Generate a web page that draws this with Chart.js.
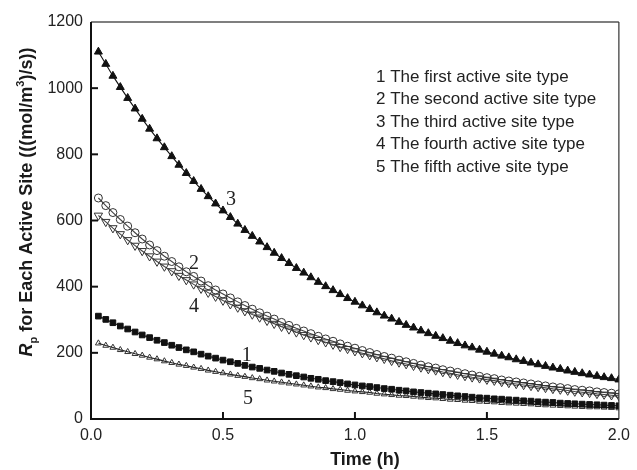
<!DOCTYPE html>
<html><head><meta charset="utf-8">
<script src="https://cdn.jsdelivr.net/npm/chart.js@4/dist/chart.umd.min.js"></script>
<style>html,body{margin:0;padding:0;background:#fff;} canvas{display:block;}</style>
</head><body>
<canvas id="c" width="637" height="470"></canvas>
<script>
// ---- data ----
const timeH = [0.028,0.056,0.083,0.111,0.139,0.167,0.194,0.222,0.250,0.278,0.306,0.333,0.361,0.389,0.417,0.444,0.472,0.500,0.528,0.556,0.583,0.611,0.639,0.667,0.694,0.722,0.750,0.778,0.806,0.833,0.861,0.889,0.917,0.944,0.972,1.000,1.028,1.056,1.083,1.111,1.139,1.167,1.194,1.222,1.250,1.278,1.306,1.333,1.361,1.389,1.417,1.444,1.472,1.500,1.528,1.556,1.583,1.611,1.639,1.667,1.694,1.722,1.750,1.778,1.806,1.833,1.861,1.889,1.917,1.944,1.972,2.000];
const site1 = [311,301,291,281,272,263,254,246,238,231,223,216,209,203,196,190,184,178,173,168,162,157,153,148,144,139,135,131,127,123,120,116,113,110,106,103,100,98,95,92,90,87,85,82,80,78,76,74,72,70,68,66,64,63,61,60,58,57,55,54,52,51,50,48,47,46,45,44,43,42,41,40];
const site2 = [668,645,624,603,583,563,544,526,509,492,476,460,445,431,417,403,390,378,366,354,343,332,321,311,302,292,283,274,266,258,250,242,235,227,220,214,207,201,195,189,184,178,173,168,163,158,154,149,145,141,137,133,129,125,122,118,115,112,109,106,103,100,97,95,92,89,87,85,82,80,78,76];
const site3 = [1110,1073,1037,1003,970,938,907,877,848,821,794,768,743,719,695,673,651,630,610,590,571,553,536,519,502,486,471,456,442,428,414,401,389,377,365,354,343,332,322,312,303,293,284,276,267,259,251,244,236,229,222,216,209,203,197,191,186,180,175,170,165,160,155,151,146,142,138,134,130,126,123,119];
const site4 = [615,596,577,559,541,524,508,492,476,461,447,433,420,407,394,382,370,358,347,337,326,316,307,297,288,279,271,262,254,247,239,232,225,218,212,205,199,193,187,182,176,171,166,161,156,151,147,142,138,134,130,126,123,119,116,112,109,106,103,100,97,94,91,89,86,83,81,79,76,74,72,70];
const site5 = [229,222,216,209,203,197,192,186,181,175,170,165,161,156,152,147,143,139,135,131,128,124,121,117,114,111,108,105,102,99,96,94,91,89,86,84,82,80,77,75,73,71,70,68,66,64,63,61,59,58,56,55,53,52,51,49,48,47,46,45,43,42,41,40,39,38,37,36,36,35,34,33];
const legendLines = ['1 The first active site type','2 The second active site type','3 The third active site type','4 The fourth active site type','5 The fifth active site type'];
const curveNumbers = ['1','2','3','4','5'];
const xTickValues = [0.5, 1.0, 1.5];
const yTickValues = [200, 400, 600, 800, 1000];
const xTitle = 'Time (h)';

const SANS = '"Liberation Sans", Arial, sans-serif';
const SERIF = '"Liberation Serif", "Times New Roman", serif';

function pts(ys){ return ys.map((v,i)=>({x:timeH[i], y:v})); }

// annotation anchors (data units) for the curve numbers
const curveNumberAt = [{x:0.59,y:190},{x:0.39,y:468},{x:0.53,y:662},{x:0.39,y:340},{x:0.595,y:62}];

const decor = {
  id:'decor',
  afterDraw(chart){
    const {ctx, chartArea:a, scales:{x,y}} = chart;
    ctx.save();
    // frame
    ctx.strokeStyle='#555'; ctx.lineWidth=1.5;
    ctx.beginPath(); ctx.moveTo(a.left,a.top); ctx.lineTo(a.right,a.top); ctx.stroke();
    ctx.strokeStyle='#333'; ctx.lineWidth=1.2;
    ctx.beginPath(); ctx.moveTo(a.right,a.top); ctx.lineTo(a.right,a.bottom); ctx.stroke();
    ctx.strokeStyle='#111'; ctx.lineWidth=2;
    ctx.beginPath(); ctx.moveTo(a.left,a.top); ctx.lineTo(a.left,a.bottom); ctx.lineTo(a.right,a.bottom); ctx.stroke();
    // inward ticks
    ctx.lineWidth=2;
    yTickValues.forEach(v=>{ const p=y.getPixelForValue(v); ctx.beginPath(); ctx.moveTo(a.left,p); ctx.lineTo(a.left+7,p); ctx.stroke(); });
    xTickValues.forEach(v=>{ const p=x.getPixelForValue(v); ctx.beginPath(); ctx.moveTo(p,a.bottom); ctx.lineTo(p,a.bottom-7); ctx.stroke(); });
    // legend text
    ctx.fillStyle='#222'; ctx.font='17px '+SANS; ctx.textBaseline='middle'; ctx.textAlign='left';
    legendLines.forEach((t,i)=>ctx.fillText(t, 376, 77+i*22.6));
    // curve numbers
    ctx.font='20px '+SERIF; ctx.textAlign='center';
    curveNumbers.forEach((t,i)=>ctx.fillText(t, x.getPixelForValue(curveNumberAt[i].x), y.getPixelForValue(curveNumberAt[i].y)));
    // x title
    ctx.font='bold 18px '+SANS; ctx.fillStyle='#1a1a1a';
    ctx.fillText(xTitle, 365, 460);
    // y title with italic R, subscript p, superscript 3
    const main='bold 18px '+SANS, small='bold 11px '+SANS, ital='italic bold 18px '+SANS;
    const parts=[
      {t:'R',f:ital,dy:0},
      {t:'p',f:small,dy:5},
      {t:' for Each Active Site (((mol/m',f:main,dy:0},
      {t:'3',f:small,dy:-8},
      {t:')/s))',f:main,dy:0}
    ];
    let total=0; parts.forEach(p=>{ctx.font=p.f; p.w=ctx.measureText(p.t).width; total+=p.w;});
    ctx.translate(25,202); ctx.rotate(-Math.PI/2);
    ctx.textAlign='left'; ctx.textBaseline='alphabetic';
    let cx=-total/2;
    parts.forEach(p=>{ctx.font=p.f; ctx.fillText(p.t,cx,6.5+p.dy); cx+=p.w;});
    ctx.restore();
  }
};

const common = {showLine:true, borderWidth:1.1, pointBorderWidth:1, pointHoverRadius:0};
new Chart(document.getElementById('c'), {
  type:'scatter',
  data:{datasets:[
    Object.assign({}, common, {label:'1', data:pts(site1), borderColor:'#222', pointStyle:'rect', pointRadius:4, pointBackgroundColor:'#111', pointBorderColor:'#111'}),
    Object.assign({}, common, {label:'5', data:pts(site5), borderColor:'#222', pointStyle:'triangle', pointRadius:3.4, pointBackgroundColor:'rgba(255,255,255,0)', pointBorderColor:'#333'}),
    Object.assign({}, common, {label:'4', data:pts(site4), borderColor:'#444', pointStyle:'triangle', rotation:180, pointRotation:180, pointRadius:4.8, pointBackgroundColor:'rgba(255,255,255,0)', pointBorderColor:'#333'}),
    Object.assign({}, common, {label:'2', data:pts(site2), borderColor:'#444', pointStyle:'circle', pointRadius:4, pointBackgroundColor:'rgba(255,255,255,0)', pointBorderColor:'#333'}),
    Object.assign({}, common, {label:'3', data:pts(site3), borderColor:'#111', pointStyle:'triangle', pointRadius:4.6, pointBackgroundColor:'#111', pointBorderColor:'#111'})
  ]},
  options:{
    responsive:false, animation:false, devicePixelRatio:1,
    layout:{padding:{top:22,right:13,left:0,bottom:0}},
    plugins:{legend:{display:false}, tooltip:{enabled:false}},
    scales:{
      x:{type:'linear', min:0, max:2,
         grid:{display:false, drawTicks:false}, border:{display:false},
         ticks:{stepSize:0.5, padding:7, color:'#222', font:{family:SANS, size:16}, callback:v=>v.toFixed(1), maxRotation:0},
         afterFit:s=>{s.height=51;}},
      y:{type:'linear', min:0, max:1200,
         grid:{display:false, drawTicks:false}, border:{display:false},
         ticks:{stepSize:200, padding:8, color:'#222', font:{family:SANS, size:16}, callback:v=>String(v)},
         afterFit:s=>{s.width=91;}}
    }
  },
  plugins:[decor]
});
</script>
</body></html>
